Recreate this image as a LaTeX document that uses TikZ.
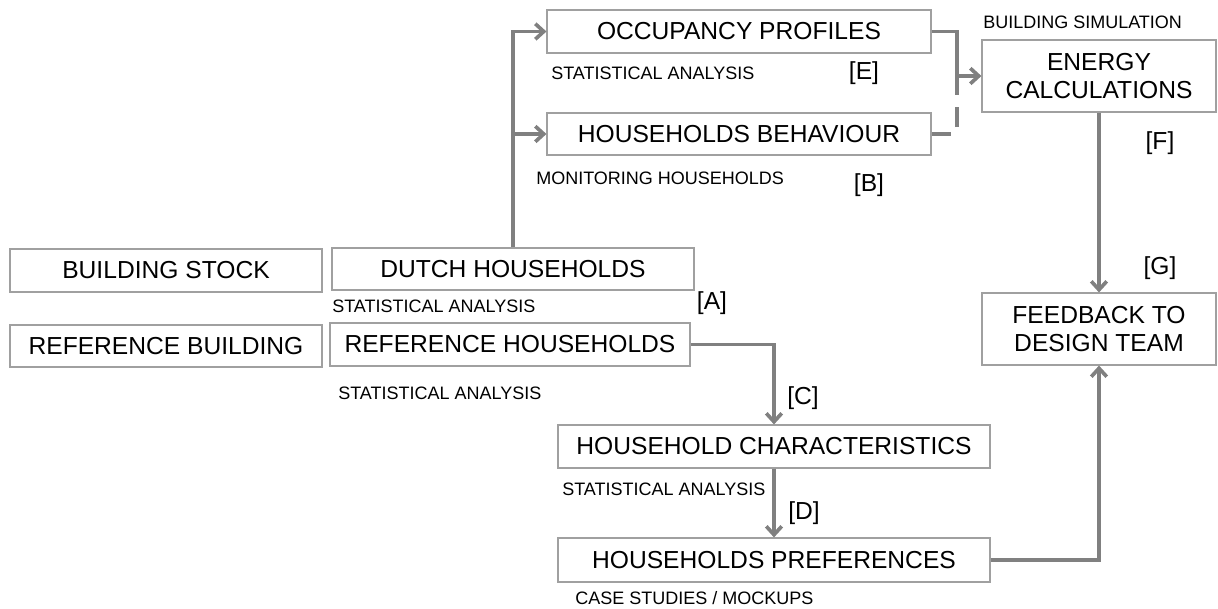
\documentclass[tikz,border=0pt]{standalone}
\usepackage{fontspec}
\setmainfont{Liberation Sans}
\usetikzlibrary{arrows.meta}
\newlength\px
\setlength\px{0.025cm}
\definecolor{linkgray}{HTML}{808080}
\definecolor{boxgray}{HTML}{A0A0A0}
\newcommand{\boxfont}{\fontsize{17.5}{20}\selectfont}
\newcommand{\notefont}{\fontsize{12.8}{15}\selectfont}
\tikzset{
  box/.style={draw=boxgray, line width=0.8pt, fill=white, inner sep=0pt,
    align=center, font=\boxfont},
  note/.style={inner sep=0pt, anchor=west, font=\notefont},
  tag/.style={inner sep=0pt, font=\boxfont},
  link/.style={draw=linkgray, line width=2.6pt},
}
\begin{document}
\begin{tikzpicture}[x=\px, y=-\px, >={Straight Barb[length=6pt,width=11pt]}]
    \useasboundingbox (0,0) rectangle (1218,609);
    % boxes
    \node[box, minimum width=312\px, minimum height=43\px] (stock) at (166,270.5) {BUILDING STOCK};
    \node[box, minimum width=362\px, minimum height=42\px] (dutch) at (513,269) {DUTCH HOUSEHOLDS};
    \node[box, minimum width=312\px, minimum height=42\px] (refbuild) at (166,346) {REFERENCE BUILDING};
    \node[box, minimum width=360\px, minimum height=43\px] (refhh) at (510,344.5) {REFERENCE HOUSEHOLDS};
    \node[box, minimum width=384\px, minimum height=43\px] (occup) at (739,31.5) {OCCUPANCY PROFILES};
    \node[box, minimum width=384\px, minimum height=42\px] (behav) at (739,134) {HOUSEHOLDS BEHAVIOUR};
    \node[box, minimum width=234\px, minimum height=72\px] (energy) at (1099,76) {ENERGY\\CALCULATIONS};
    \node[box, minimum width=234\px, minimum height=72\px] (feedback) at (1099,329) {FEEDBACK TO\\DESIGN TEAM};
    \node[box, minimum width=432\px, minimum height=43\px] (charac) at (774,446.5) {HOUSEHOLD CHARACTERISTICS};
    \node[box, minimum width=432\px, minimum height=44\px] (prefs) at (774,560) {HOUSEHOLDS PREFERENCES};

    % notes
    \node[note] (simlab) at (983,22) {BUILDING SIMULATION};
    \node[note] (stat1) at (551,73) {STATISTICAL ANALYSIS};
    \node[note] (monit) at (536,178) {MONITORING HOUSEHOLDS};
    \node[note] (stat2) at (332,306) {STATISTICAL ANALYSIS};
    \node[note] (stat3) at (338,393) {STATISTICAL ANALYSIS};
    \node[note] (stat4) at (562,489) {STATISTICAL ANALYSIS};
    \node[note] (cases) at (575,598) {CASE STUDIES / MOCKUPS};

    % tags
    \node[tag] (tagA) at (712,303) {[A]};
    \node[tag] (tagB) at (869,185) {[B]};
    \node[tag] (tagC) at (803,398) {[C]};
    \node[tag] (tagD) at (804,513) {[D]};
    \node[tag] (tagE) at (864,73) {[E]};
    \node[tag] (tagF) at (1160,143) {[F]};
    \node[tag] (tagG) at (1160,268) {[G]};

    % connectors
    \coordinate (join) at (957,76);
    \draw[link,->] (dutch.north) |- (occup.west);
    \draw[link,->] (dutch.north |- behav.west) -- (behav.west);
    \draw[link,->] (occup.east) -| (join) -- (energy.west);
    \draw[link,dash pattern=on 14pt off 9pt] (behav.east) -| (join);
    \draw[link,->] (energy.south) -- (feedback.north);
    \draw[link,->] (refhh.east) -| (charac.north);
    \draw[link,->] (charac.south) -- (prefs.north);
    \draw[link,->] (prefs.east) -| (feedback.south);
\end{tikzpicture}
\end{document}
